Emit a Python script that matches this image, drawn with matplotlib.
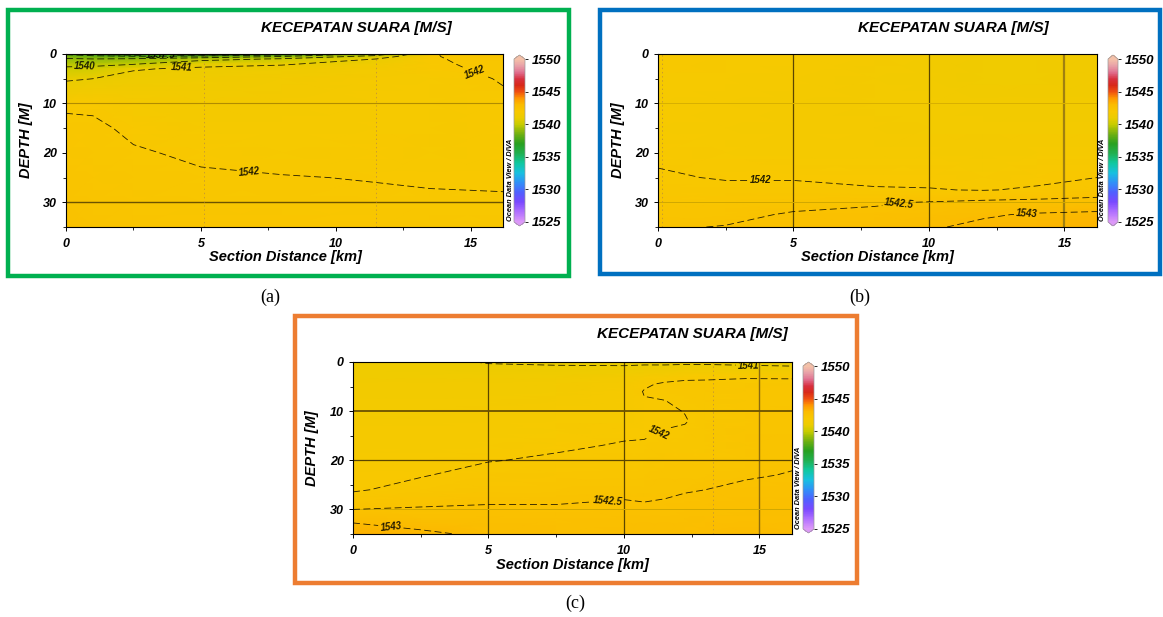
import numpy as np
import matplotlib
matplotlib.use("Agg")
import matplotlib.pyplot as plt
from matplotlib.colors import LinearSegmentedColormap
from matplotlib.patches import Rectangle
from matplotlib.ticker import MultipleLocator

plt.rcParams['font.family'] = ['Liberation Sans', 'DejaVu Sans']
plt.rcParams['font.weight'] = 'bold'
plt.rcParams['font.style'] = 'italic'
plt.rcParams['lines.scale_dashes'] = False
plt.rcParams['lines.dashed_pattern'] = [5, 2.5]

W, H = 1163, 617

#colour scale (ODV default)
cb_values = [1525, 1526.5, 1528, 1529.5, 1531, 1532.5, 1534, 1535.5, 1537, 1538.5,
             1540, 1541, 1542, 1543, 1544, 1545, 1546, 1547, 1548, 1549, 1550]
cb_colors = ['#dc98f8', '#b070ff', '#7a48ff', '#5060ff', '#3090f8', '#18c0e0', '#10c8a0',
             '#20b050', '#28a020', '#70b010', '#c8cc00', '#eccc00', '#f8c800', '#fbbc00',
             '#ff9800', '#f05010', '#d82818', '#d83040', '#e07090', '#e8a0a8', '#f4c0a8']
cb_ticks = [1525, 1530, 1535, 1540, 1545, 1550]

#****************************** panel (a) ******************************
dist_a = [0, 1, 2.5, 5, 8, 11.5, 13.5, 16.2]
depth_a = [0, 0.5, 1, 2, 3, 5, 10, 15, 20, 25, 30, 35]
# one list per station (distance), values down the depth axis
speed_a = [
    [1537.8, 1538.6, 1539.1, 1539.7, 1540.2, 1540.9, 1541.9, 1542.15, 1542.22, 1542.3, 1542.4, 1542.5],
    [1537.3, 1538.3, 1539.0, 1539.7, 1540.3, 1541.0, 1541.9, 1542.1, 1542.18, 1542.26, 1542.35, 1542.45],
    [1536.9, 1538.1, 1539.1, 1539.9, 1540.95, 1541.2, 1541.7, 1541.9, 1542.05, 1542.15, 1542.25, 1542.35],
    [1536.7, 1538.3, 1539.6, 1540.8, 1541.1, 1541.35, 1541.6, 1541.75, 1541.92, 1542.06, 1542.15, 1542.3],
    [1537.3, 1539.0, 1540.1, 1540.9, 1541.3, 1541.5, 1541.65, 1541.75, 1541.85, 1542.02, 1542.1, 1542.2],
    [1539.3, 1540.4, 1541.0, 1541.4, 1541.6, 1541.72, 1541.8, 1541.85, 1541.9, 1541.98, 1542.08, 1542.2],
    [1541.95, 1541.95, 1541.93, 1541.92, 1541.9, 1541.88, 1541.86, 1541.86, 1541.88, 1541.96, 1542.05, 1542.18],
    [1542.35, 1542.3, 1542.25, 1542.15, 1542.1, 1542.02, 1541.95, 1541.9, 1541.9, 1541.96, 1542.03, 1542.12],
]
levels_a = [1537, 1537.5, 1538, 1539, 1540, 1541, 1542]
labels_a = [(3.5, 0.3), (0.7, 2.6), (4.3, 3.0), (6.8, 23.8), (15.2, 2.8)]

#****************************** panel (b) ******************************
dist_b = [0, 2.5, 5, 8, 10, 12, 14, 16.2]
depth_b = [0, 5, 10, 15, 20, 25, 27.5, 30, 32.5, 35]
speed_b = [
    [1541.9, 1541.85, 1541.8, 1541.82, 1541.92, 1542.05, 1542.15, 1542.25, 1542.35, 1542.45],
    [1541.85, 1541.8, 1541.75, 1541.75, 1541.82, 1541.97, 1542.1, 1542.25, 1542.38, 1542.52],
    [1541.8, 1541.7, 1541.65, 1541.65, 1541.75, 1541.97, 1542.1, 1542.35, 1542.55, 1542.65],
    [1541.65, 1541.6, 1541.6, 1541.62, 1541.72, 1541.92, 1542.03, 1542.45, 1542.6, 1542.7],
    [1541.5, 1541.5, 1541.55, 1541.6, 1541.7, 1541.9, 1542.02, 1542.52, 1542.7, 1542.95],
    [1541.4, 1541.4, 1541.45, 1541.55, 1541.68, 1541.88, 1541.98, 1542.6, 1542.95, 1543.1],
    [1541.4, 1541.4, 1541.45, 1541.55, 1541.7, 1541.9, 1542.05, 1542.65, 1543.05, 1543.15],
    [1541.45, 1541.45, 1541.5, 1541.6, 1541.75, 1542.0, 1542.2, 1542.7, 1543.1, 1543.2],
]
levels_b = [1542, 1542.5, 1543]
labels_b = [(3.8, 25.5), (8.9, 30.5), (13.6, 31.7)]

#****************************** panel (c) ******************************
dist_c = [0, 2.5, 5, 7.5, 10, 10.75, 11.5, 12.25, 13, 14.5, 16.2]
depth_c = [0, 1, 3, 4.5, 6, 8, 10, 12, 14, 17, 20, 23, 26, 29, 32, 35]
speed_c = [
    [1541.3, 1541.35, 1541.4, 1541.45, 1541.5, 1541.55, 1541.6, 1541.65, 1541.7, 1541.75, 1541.82, 1541.9, 1541.95, 1542.3, 1542.9, 1543.3],
    [1541.2, 1541.3, 1541.4, 1541.45, 1541.5, 1541.55, 1541.6, 1541.65, 1541.7, 1541.78, 1541.88, 1541.97, 1542.15, 1542.45, 1542.75, 1543.1],
    [1540.95, 1541.1, 1541.35, 1541.45, 1541.5, 1541.55, 1541.62, 1541.7, 1541.78, 1541.88, 1541.98, 1542.15, 1542.3, 1542.5, 1542.7, 1542.9],
    [1540.9, 1541.05, 1541.4, 1541.55, 1541.6, 1541.65, 1541.72, 1541.8, 1541.88, 1541.94, 1542.06, 1542.2, 1542.32, 1542.5, 1542.65, 1542.8],
    [1540.85, 1541.05, 1541.6, 1541.75, 1541.8, 1541.82, 1541.85, 1541.88, 1541.93, 1542.03, 1542.15, 1542.25, 1542.4, 1542.55, 1542.7, 1542.85],
    [1540.85, 1541.1, 1541.7, 1541.95, 1542.02, 1541.98, 1541.92, 1541.9, 1541.93, 1542.05, 1542.18, 1542.28, 1542.4, 1542.52, 1542.68, 1542.82],
    [1540.85, 1541.1, 1541.85, 1542.05, 1542.08, 1541.99, 1541.95, 1541.95, 1542.01, 1542.1, 1542.2, 1542.3, 1542.42, 1542.55, 1542.7, 1542.85],
    [1540.85, 1541.15, 1541.9, 1542.1, 1542.12, 1542.08, 1542.01, 1541.98, 1542.04, 1542.12, 1542.22, 1542.35, 1542.47, 1542.6, 1542.75, 1542.9],
    [1540.85, 1541.15, 1541.92, 1542.1, 1542.15, 1542.15, 1542.12, 1542.1, 1542.12, 1542.18, 1542.25, 1542.38, 1542.5, 1542.65, 1542.8, 1542.95],
    [1540.9, 1541.05, 1541.95, 1542.15, 1542.2, 1542.22, 1542.25, 1542.28, 1542.3, 1542.35, 1542.38, 1542.46, 1542.58, 1542.72, 1542.86, 1542.98],
    [1540.9, 1541.02, 1541.92, 1542.2, 1542.25, 1542.28, 1542.3, 1542.33, 1542.36, 1542.42, 1542.45, 1542.52, 1542.62, 1542.74, 1542.85, 1542.95],
]
levels_c = [1541, 1542, 1542.5, 1543]
labels_c = [(14.6, 0.7), (11.3, 14.3), (9.4, 28.2), (1.4, 33.3)]

title = "KECEPATAN SUARA [M/S]"

cmap = LinearSegmentedColormap.from_list(
    "odv", [((v - 1525) / 25.0, c) for v, c in zip(cb_values, cb_colors)])
cmap.set_under(cb_colors[0])
cmap.set_over(cb_colors[-1])


def frac(x, y, w, h):
    return [x / W, 1 - (y + h) / H, w / W, h / H]


def draw_panel(fig, ax_box, cb_box, dist, depth, speed, levels, label_pos,
               vlines, hlines, stations):
    ax = fig.add_axes(frac(*ax_box))
    X, Y = np.meshgrid(dist, depth)
    Z = np.array(speed).T
    pm = ax.pcolormesh(X, Y, Z, cmap=cmap, vmin=1525, vmax=1550, shading='gouraud')

    for x, col, lw in vlines:
        ax.axvline(x, color=col, lw=lw, zorder=2)
    for y, col, lw in hlines:
        ax.axhline(y, color=col, lw=lw, zorder=2)
    for x in stations:
        ax.axvline(x, color='#c89a30', lw=0.7, ls=(0, (1, 2)), zorder=2)

    cs = ax.contour(X, Y, Z, levels=levels, colors='k', linewidths=0.6,
                    linestyles='dashed', alpha=0.85, zorder=3)
    lbls = ax.clabel(cs, fmt=lambda v: f"{v:g}", manual=label_pos, fontsize=7,
                     inline=True, inline_spacing=2)
    for t in lbls:
        t.set_fontweight('bold')
        t.set_fontstyle('italic')

    ax.set_xlim(0, dist[-1])
    ax.set_ylim(35, 0)
    ax.xaxis.set_major_locator(MultipleLocator(5))
    ax.xaxis.set_minor_locator(MultipleLocator(2.5))
    ax.yaxis.set_major_locator(MultipleLocator(10))
    ax.yaxis.set_minor_locator(MultipleLocator(5))
    ax.tick_params(which='major', direction='out', length=3, width=0.7, labelsize=9)
    ax.tick_params(axis='x', which='major', pad=5)
    ax.tick_params(which='minor', direction='out', length=2, width=0.6)
    for s in ax.spines.values():
        s.set_linewidth(0.8)

    cax = fig.add_axes(frac(*cb_box))
    cb = fig.colorbar(pm, cax=cax, extend='both', extendfrac=0.025, ticks=cb_ticks)
    cb.outline.set_linewidth(0.5)
    cb.outline.set_edgecolor('#999999')
    cax.tick_params(length=2, width=0.6, labelsize=9.5, pad=3)
    return ax


fig = plt.figure(figsize=(W / 100, H / 100), dpi=100)

draw_panel(fig, (66, 54, 437, 173), (514, 55, 11, 171), dist_a, depth_a, speed_a,
           levels_a, labels_a,
           vlines=[],
           hlines=[(10, '#b08c00', 0.8), (30, '#6b5200', 1.0)],
           stations=[5.1, 11.5])
draw_panel(fig, (658, 54, 439, 173), (1108, 55, 10, 171), dist_b, depth_b, speed_b,
           levels_b, labels_b,
           vlines=[(5, '#5a4500', 0.9), (10, '#5a4500', 0.9), (15, '#a08010', 1.6)],
           hlines=[(10, '#d8b000', 0.7), (30, '#d0a800', 0.7)],
           stations=[0.15])
draw_panel(fig, (353, 362, 439, 172), (803, 362, 11, 171), dist_c, depth_c, speed_c,
           levels_c, labels_c,
           vlines=[(5, '#5a4500', 0.9), (10, '#5a4500', 0.9), (15, '#8a6a10', 1.0)],
           hlines=[(10, '#6b5200', 1.3), (20, '#5a4500', 0.9), (30, '#d0a800', 0.7)],
           stations=[13.3])

def ftext(x, y, s, **kw):
    fig.text(x / W, 1 - y / H, s, **kw)

# titles and axis labels
for tx, ty in [(452, 28), (1049, 28), (788, 334)]:
    ftext(tx, ty, title, ha='right', va='center', fontsize=11)
for cx, cy in [(285, 257), (877, 257), (572, 565)]:
    ftext(cx, cy, "Section Distance [km]", ha='center', va='center', fontsize=10.5)
for dx, dy in [(26, 140), (618, 140), (312, 448)]:
    ftext(dx, dy, "DEPTH [M]", ha='center', va='center', rotation=90, fontsize=10.5)
for ox, oy in [(510, 180), (1103, 180), (799, 488)]:
    ftext(ox, oy, "Ocean Data View / DIVA", ha='center', va='center', rotation=90,
          fontsize=5.3)

# panel frames
frames = [((8, 9.5), 561, 266, '#00b050'),
          ((600, 9.5), 560, 264, '#0070c0'),
          ((295.5, 315.5), 561.5, 267.5, '#ed7d31')]
for (fx0, fy0), fw, fh, col in frames:
    fig.patches.append(Rectangle((fx0 / W, 1 - (fy0 + fh) / H), fw / W, fh / H,
                                 transform=fig.transFigure, fill=False,
                                 edgecolor=col, lw=3.2))

for lx, ly, s in [(270, 297, "(a)"), (860, 297, "(b)"), (575, 603, "(c)")]:
    ftext(lx, ly, s, ha='center', va='center', fontsize=13,
          family=['Liberation Serif'], weight='normal', style='normal')

fig.savefig("out.png", dpi=100)
